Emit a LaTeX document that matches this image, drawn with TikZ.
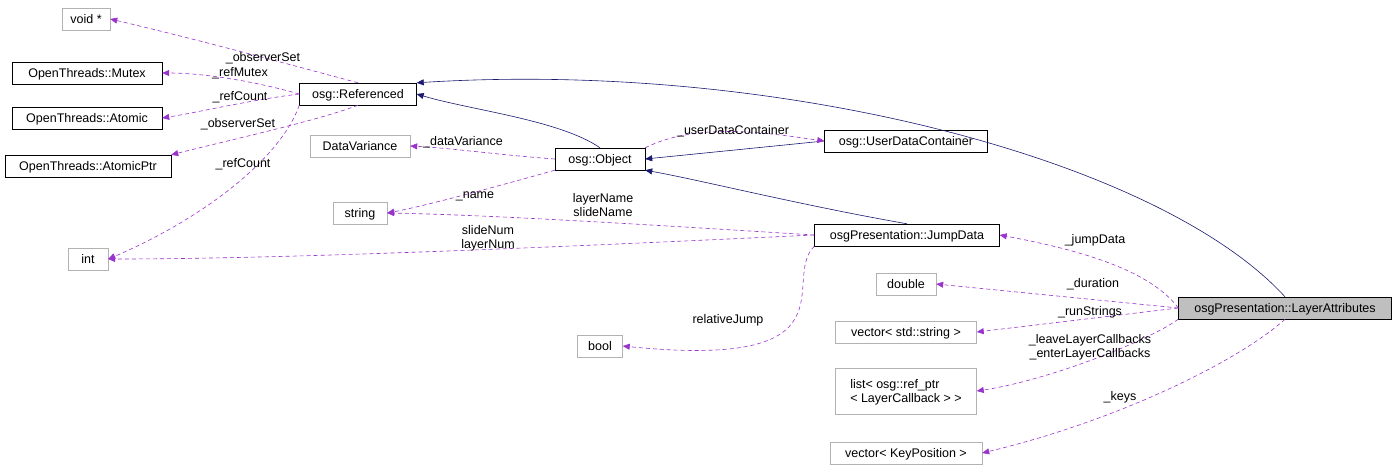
\documentclass[tikz,border=0pt]{standalone}
\usepackage{fontspec}
\setmainfont{Liberation Sans}
\usetikzlibrary{arrows.meta}
\definecolor{inh}{HTML}{191970}
\definecolor{use}{HTML}{9A32CD}
\begin{document}
\begin{tikzpicture}[x=1pt,y=-1pt,font=\fontsize{12.5}{14}\selectfont]
	\tikzset{
	  cls/.style={draw=black,inner sep=0pt,minimum height=22pt,text depth=0pt},
	  ext/.style={cls,draw=black!30},
	  inherit/.style={draw=inh,line width=0.6pt,-{Triangle[length=7pt,width=6pt]}},
	  uses/.style={draw=use,line width=0.6pt,dash pattern=on 4pt off 3pt,-{Triangle[length=7pt,width=6pt]}},
	  lbl/.style={inner sep=0pt,align=center}
	}
	\useasboundingbox (0,0) rectangle (1397,472);

	%classes
	\node[ext,minimum width=48pt] (voidp) at (86,19) {void *};
	\node[cls,minimum width=150pt] (mutex) at (87,73) {OpenThreads::Mutex};
	\node[cls,minimum width=150pt] (atomic) at (87,118) {OpenThreads::Atomic};
	\node[cls,minimum width=166pt] (atomicptr) at (88,166) {OpenThreads::AtomicPtr};
	\node[ext,minimum width=40pt] (int) at (88,259) {int};
	\node[cls,minimum width=117pt] (referenced) at (358,94) {osg::Referenced};
	\node[ext,minimum width=100pt] (datavariance) at (360,146) {DataVariance};
	\node[ext,minimum width=54pt] (string) at (360,213) {string};
	\node[ext,minimum width=45pt] (bool) at (600,346) {bool};
	\node[cls,minimum width=90pt] (object) at (600,159) {osg::Object};
	\node[cls,minimum width=163pt] (udc) at (906,141) {osg::UserDataContainer};
	\node[cls,minimum width=185pt] (jumpdata) at (907,235) {osgPresentation::JumpData};
	\node[ext,minimum width=60pt] (double) at (906,284) {double};
	\node[ext,minimum width=141pt] (runstrings) at (906,332) {vector< std::string >};
	\node[ext,minimum width=141pt,minimum height=46pt,align=left] (cblist) at (906,391) {list< osg::ref\_ptr\\< LayerCallback > >};
	\node[ext,minimum width=152pt] (keys) at (906,453) {vector< KeyPosition >};
	\node[cls,minimum width=213pt,fill=black!25] (layer) at (1285,308) {osgPresentation::LayerAttributes};

	%inheritance
	\draw[inherit] (layer.north) .. controls (1160,160) and (780,60) .. (referenced.north east);
	\draw[inherit] (object.north) .. controls (560,120) and (470,110) .. (referenced.east);
	\draw[inherit] (udc.west) -- (object.east);
	\draw[inherit] (jumpdata.north) .. controls (800,205) and (700,180) .. (object.south east);

	%members
	\draw[uses] (referenced.north) .. controls (310,70) and (200,40) .. (voidp.east);
	\draw[uses] (referenced.west) .. controls (250,80) and (200,73) .. (mutex.east);
	\draw[uses] (referenced.west) .. controls (250,100) and (200,112) .. (atomic.east);
	\draw[uses] (referenced.south) .. controls (320,120) and (230,140) .. (atomicptr.north east);
	\draw[uses] (referenced.south west) .. controls (280,160) and (200,220) .. (int.east);
	\draw[uses] (object.west) .. controls (500,155) and (450,148) .. (datavariance.east);
	\draw[uses] (object.south west) .. controls (520,180) and (430,205) .. (string.east);
	\draw[uses] (object.north east) .. controls (700,120) and (780,135) .. (udc.west);
	\draw[uses] (jumpdata.west) .. controls (700,228) and (500,215) .. (string.east);
	\draw[uses] (jumpdata.west) .. controls (600,245) and (300,259) .. (int.east);
	\draw[uses] (jumpdata.south west) .. controls (780,280) and (860,370) .. (bool.east);
	\draw[uses] (layer.west) .. controls (1150,270) and (1080,250) .. (jumpdata.east);
	\draw[uses] (layer.west) -- (double.east);
	\draw[uses] (layer.west) -- (runstrings.east);
	\draw[uses] (layer.south west) .. controls (1150,340) and (1050,380) .. (cblist.east);
	\draw[uses] (layer.south) .. controls (1240,360) and (1120,420) .. (keys.east);

	%labels
	\node[lbl] (l1) at (263,58) {\_observerSet};
	\node[lbl] (l2) at (240,73) {\_refMutex};
	\node[lbl] (l3) at (240,97) {\_refCount};
	\node[lbl] (l4) at (238,124) {\_observerSet};
	\node[lbl] (l5) at (243,164) {\_refCount};
	\node[lbl] (l6) at (463,142) {\_dataVariance};
	\node[lbl] (l7) at (475,196) {\_name};
	\node[lbl] (l8) at (733,131) {\_userDataContainer};
	\node[lbl] (l9) at (603,205) {layerName\\slideName};
	\node[lbl] (l10) at (488,238) {slideNum\\layerNum};
	\node[lbl] (l11) at (728,320) {relativeJump};
	\node[lbl] (l12) at (1095,240) {\_jumpData};
	\node[lbl] (l13) at (1093,284) {\_duration};
	\node[lbl] (l14) at (1090,312) {\_runStrings};
	\node[lbl] (l15) at (1090,347) {\_leaveLayerCallbacks\\\_enterLayerCallbacks};
	\node[lbl] (l16) at (1120,397) {\_keys};
\end{tikzpicture}
\end{document}
